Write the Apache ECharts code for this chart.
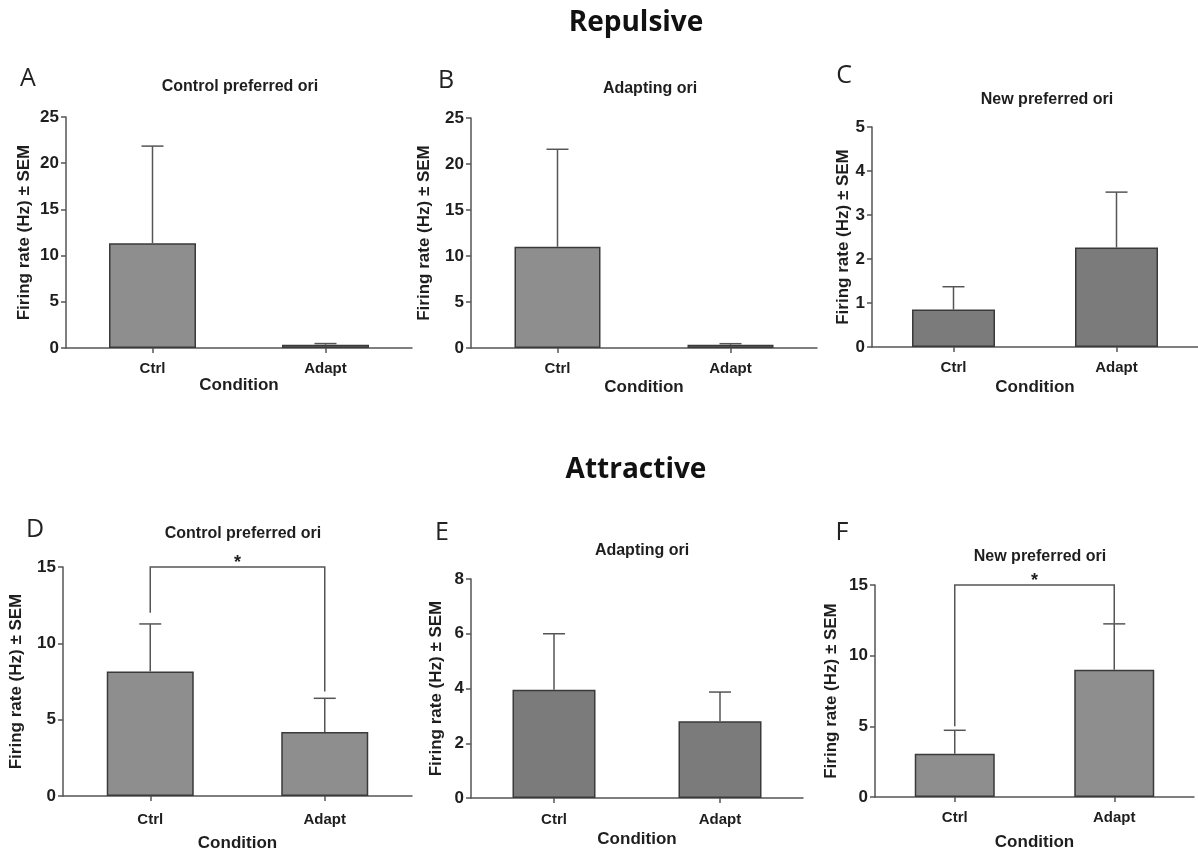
<!DOCTYPE html>
<html><head><meta charset="utf-8">
<script src="https://cdn.jsdelivr.net/npm/echarts@6/dist/echarts.min.js"></script>
<style>html,body{margin:0;padding:0;background:#fff}#c{width:1198px;height:853px}</style>
</head><body><div id="c"></div>
<script>
// ---------- data ----------
const categories = ['Ctrl', 'Adapt'];
const sectionTitles = ['Repulsive', 'Attractive'];
const panelLetters = ['A', 'B', 'C', 'D', 'E', 'F'];
const panelTitles = ['Control preferred ori', 'Adapting ori', 'New preferred ori',
                     'Control preferred ori', 'Adapting ori', 'New preferred ori'];
const yAxisName = 'Firing rate (Hz) ± SEM';
const xAxisName = 'Condition';

// mean firing rates and (mean + SEM) tops
const meanA = [11.35, 0.35]; const semTopA = [21.85, 0.48];
const meanB = [11.0, 0.35];  const semTopB = [21.6, 0.47];
const meanC = [0.85, 2.26];  const semTopC = [1.37, 3.52];
const meanD = [8.15, 4.2];   const semTopD = [11.27, 6.4];
const meanE = [3.95, 2.8];   const semTopE = [6.0, 3.87];
const meanF = [3.06, 9.0];   const semTopF = [4.72, 12.25];

// y-axis ranges / tick steps
const yMax  = [25, 25, 5, 15, 8, 15];
const yStep = [5, 5, 1, 5, 2, 5];

// significance brackets: [level, left drop end, right drop end]
const sigD = [15, 12.0, 6.85];
const sigF = [15, 5.0, 12.3];
const sigMark = '*';

const means = [meanA, meanB, meanC, meanD, meanE, meanF];
const semTops = [semTopA, semTopB, semTopC, semTopD, semTopE, semTopF];
const sigs = [null, null, null, sigD, null, sigF];

// ---------- layout (pixels / styles) ----------
const layout = [
  {left: 66,  top: 117, width: 346, height: 231, barW: 87, fill: '#8e8e8e', nameGap: 33, xGap: 29, lblM: 13, tx: 235,  ty: 83,  lx: 23,  ly: 76},
  {left: 471, top: 118, width: 346, height: 230, barW: 86, fill: '#8e8e8e', nameGap: 38, xGap: 31, lblM: 13, tx: 645,  ty: 85,  lx: 441, ly: 78},
  {left: 872, top: 127, width: 334, height: 220, barW: 83, fill: '#7b7b7b', nameGap: 20, xGap: 32, lblM: 13, tx: 1042, ty: 96,  lx: 839, ly: 73},
  {left: 63,  top: 567, width: 349, height: 231, barW: 87, fill: '#8e8e8e', nameGap: 38, xGap: 39, lblM: 16, tx: 238,  ty: 530, lx: 30,  ly: 527},
  {left: 471, top: 579, width: 332, height: 219, barW: 83, fill: '#7b7b7b', nameGap: 26, xGap: 33, lblM: 14, tx: 637,  ty: 547, lx: 437, ly: 530},
  {left: 875, top: 585, width: 319, height: 212, barW: 80, fill: '#8e8e8e', nameGap: 35, xGap: 37, lblM: 13, tx: 1035, ty: 553, lx: 837, ly: 530}
];
const sectionPos = [{x: 631, y: 23}, {x: 631, y: 470}];

const AX = '#555';
const TXT = '#1e1e1e';
const FONT = 'Liberation Sans, Arial, sans-serif';

const grids = [], xAxes = [], yAxes = [], series = [], titles = [];

sectionTitles.forEach((t, i) => {
  titles.push({text: t, left: sectionPos[i].x, top: sectionPos[i].y - 19, textAlign: 'center',
    textStyle: {fontFamily: 'Open Sans, sans-serif', fontWeight: 'bold', fontSize: 28, color: '#111'}});
});

function errRender(params, api) {
  const x = api.value(0), m = api.value(1), t = api.value(2);
  const p0 = api.coord([x, m]), p1 = api.coord([x, t]);
  const half = 11;
  return {type: 'group', children: [
    {type: 'line', shape: {x1: p0[0], y1: p0[1], x2: p1[0], y2: p1[1]}, style: {stroke: AX, lineWidth: 1.5}},
    {type: 'line', shape: {x1: p1[0] - half, y1: p1[1], x2: p1[0] + half, y2: p1[1]}, style: {stroke: AX, lineWidth: 1.5}}
  ]};
}
function sigRender(params, api) {
  const lvl = api.value(1), le = api.value(2), re = api.value(3);
  const last = categories.length - 1;
  const a = api.coord([0, lvl]), b = api.coord([last, lvl]);
  const a2 = api.coord([0, le]), b2 = api.coord([last, re]);
  return {type: 'group', children: [
    {type: 'polyline', shape: {points: [[a2[0], a2[1]], [a[0], a[1]], [b[0], b[1]], [b2[0], b2[1]]]},
      style: {stroke: AX, lineWidth: 1.5, fill: null}},
    {type: 'text', style: {text: sigMark, x: (a[0] + b[0]) / 2, y: a[1] - 4, align: 'center', verticalAlign: 'middle',
      font: 'bold 18px Liberation Sans, Arial, sans-serif', fill: TXT}}
  ]};
}

layout.forEach((L, i) => {
  grids.push({left: L.left, top: L.top, width: L.width, height: L.height, containLabel: false});
  xAxes.push({
    type: 'category', gridIndex: i, data: categories,
    name: xAxisName, nameLocation: 'middle', nameGap: L.xGap,
    nameTextStyle: {fontFamily: FONT, fontWeight: 'bold', fontSize: 17, color: TXT},
    axisLine: {show: true, lineStyle: {color: AX, width: 1.5}},
    axisTick: {show: true, alignWithLabel: true, length: 5, lineStyle: {color: AX, width: 1.5}},
    axisLabel: {fontFamily: FONT, fontWeight: 'bold', fontSize: 15, color: TXT, margin: L.lblM}
  });
  yAxes.push({
    type: 'value', gridIndex: i, min: 0, max: yMax[i], interval: yStep[i],
    name: yAxisName, nameLocation: 'middle', nameGap: L.nameGap, nameRotate: 90,
    nameTextStyle: {fontFamily: FONT, fontWeight: 'bold', fontSize: 17, color: TXT},
    axisLine: {show: true, lineStyle: {color: AX, width: 1.5}},
    axisTick: {show: true, length: 5, lineStyle: {color: AX, width: 1.5}},
    splitLine: {show: false},
    axisLabel: {fontFamily: FONT, fontWeight: 'bold', fontSize: 17, color: TXT, margin: 7}
  });
  series.push({
    type: 'bar', xAxisIndex: i, yAxisIndex: i, data: means[i], barWidth: L.barW,
    itemStyle: {color: L.fill, borderColor: '#3a3a3a', borderWidth: 1.5}, silent: true, z: 2
  });
  series.push({
    type: 'custom', xAxisIndex: i, yAxisIndex: i, renderItem: errRender, z: 3, silent: true,
    encode: {x: 0, y: 1},
    data: means[i].map((m, k) => [k, m, semTops[i][k]])
  });
  if (sigs[i]) {
    series.push({
      type: 'custom', xAxisIndex: i, yAxisIndex: i, renderItem: sigRender, z: 4, silent: true, clip: false,
      encode: {x: 0, y: 1},
      data: [[0, sigs[i][0], sigs[i][1], sigs[i][2]]]
    });
  }
  titles.push({text: panelTitles[i], left: L.tx, top: L.ty - 9, textAlign: 'center',
    textStyle: {fontFamily: FONT, fontWeight: 'bold', fontSize: 16, color: TXT}});
  titles.push({text: panelLetters[i], left: L.lx, top: L.ly - 15, textAlign: 'center',
    textStyle: {fontFamily: 'Open Sans, sans-serif', fontWeight: 'normal', fontSize: 25, color: '#222'}});
});

const chart = echarts.init(document.getElementById('c'), null, {renderer: 'canvas'});
chart.setOption({
  backgroundColor: '#fff', animation: false,
  title: titles, grid: grids, xAxis: xAxes, yAxis: yAxes, series: series
});
</script></body></html>
